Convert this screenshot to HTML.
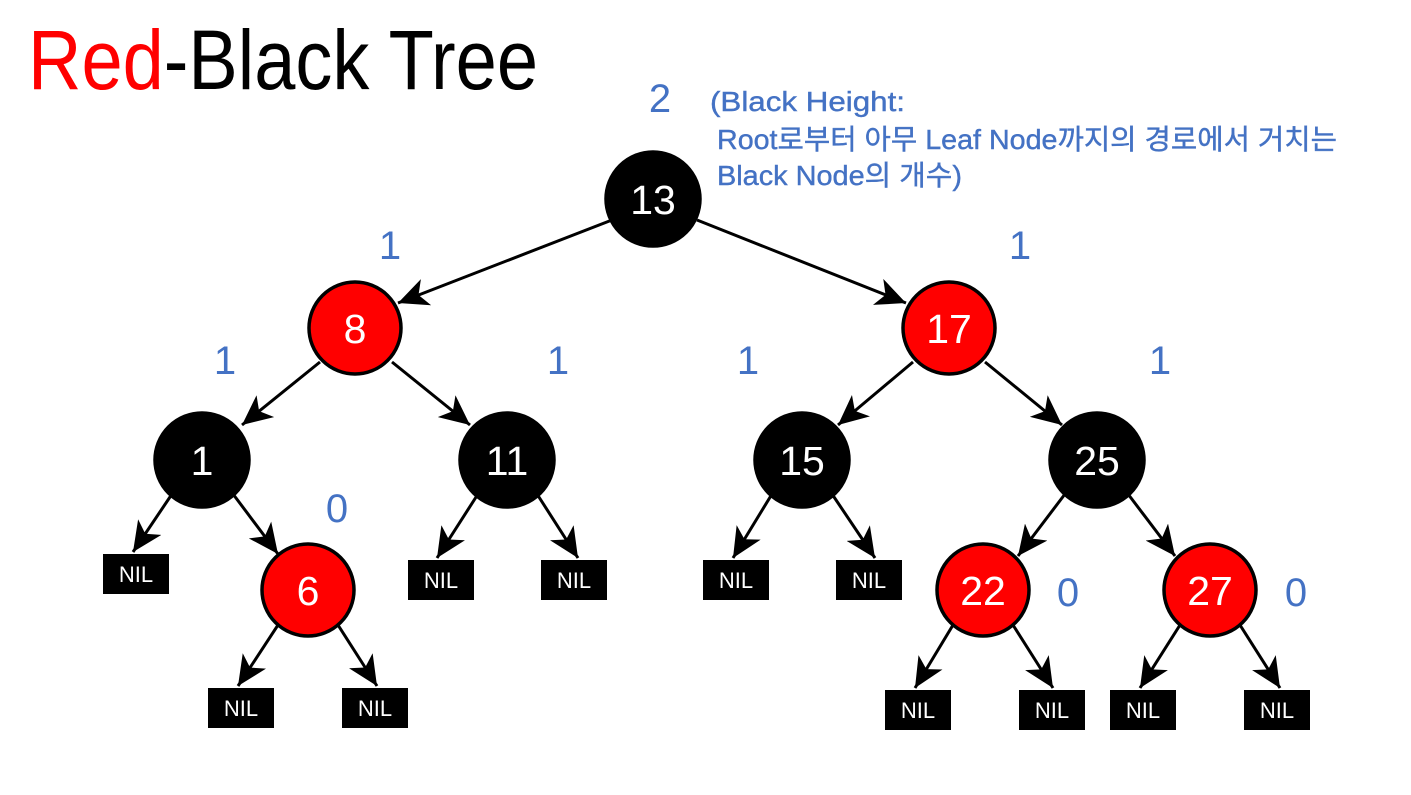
<!DOCTYPE html>
<html><head><meta charset="utf-8"><style>
html,body{margin:0;padding:0;background:#fff;}
svg{display:block;}
.n{font-family:"Liberation Sans",sans-serif;font-size:41px;fill:#fff;text-anchor:middle;}
.nil{font-family:"Liberation Sans",sans-serif;font-size:22px;fill:#fff;text-anchor:middle;}
.b{font-family:"Liberation Sans","Noto Sans CJK KR",sans-serif;fill:#4472C4;}
</style></head><body>
<svg width="1411" height="795" viewBox="0 0 1411 795" xmlns="http://www.w3.org/2000/svg">
<defs>
<marker id="h" markerWidth="32" markerHeight="28" refX="30" refY="14" orient="auto" markerUnits="userSpaceOnUse"><path d="M0,0 L30,14 L0,28 L8,14 z" fill="#000"/></marker></defs>
<text x="28" y="89" font-family="Liberation Sans,sans-serif" font-size="84" textLength="510" lengthAdjust="spacingAndGlyphs"><tspan fill="#f00">Red</tspan><tspan fill="#000">-Black Tree</tspan></text>
<g stroke="#000" stroke-width="3" fill="none" marker-end="url(#h)">
<line x1="612" y1="220" x2="398" y2="303"/>
<line x1="697" y1="220" x2="906" y2="303"/>
<line x1="320" y1="362" x2="242" y2="425"/>
<line x1="392" y1="362" x2="470" y2="425"/>
<line x1="913" y1="362" x2="838" y2="425"/>
<line x1="985" y1="362" x2="1062" y2="425"/>
<line x1="172" y1="494" x2="133" y2="552"/>
<line x1="233" y1="494" x2="278" y2="554"/>
<line x1="478" y1="494" x2="437" y2="558"/>
<line x1="537" y1="494" x2="578" y2="558"/>
<line x1="772" y1="494" x2="733" y2="558"/>
<line x1="832" y1="494" x2="875" y2="558"/>
<line x1="1065" y1="494" x2="1018" y2="556"/>
<line x1="1128" y1="494" x2="1175" y2="556"/>
<line x1="278" y1="625" x2="238" y2="686"/>
<line x1="338" y1="625" x2="377" y2="686"/>
<line x1="953" y1="625" x2="915" y2="688"/>
<line x1="1013" y1="625" x2="1053" y2="688"/>
<line x1="1180" y1="625" x2="1140" y2="688"/>
<line x1="1240" y1="625" x2="1280" y2="688"/>
</g>
<g stroke="#000" stroke-width="3.5">
<circle cx="653" cy="199" r="47" fill="#000"/>
<circle cx="355" cy="328" r="46" fill="#f00"/>
<circle cx="949" cy="328" r="46" fill="#f00"/>
<circle cx="202" cy="460" r="47" fill="#000"/>
<circle cx="507" cy="460" r="47" fill="#000"/>
<circle cx="802" cy="460" r="47" fill="#000"/>
<circle cx="1097" cy="460" r="47" fill="#000"/>
<circle cx="308" cy="590" r="46" fill="#f00"/>
<circle cx="983" cy="590" r="46" fill="#f00"/>
<circle cx="1210" cy="590" r="46" fill="#f00"/>
</g>
<g>
<text class="n" x="653" y="214">13</text>
<text class="n" x="355" y="343">8</text>
<text class="n" x="949" y="343">17</text>
<text class="n" x="202" y="475">1</text>
<text class="n" x="507" y="475">11</text>
<text class="n" x="802" y="475">15</text>
<text class="n" x="1097" y="475">25</text>
<text class="n" x="308" y="605">6</text>
<text class="n" x="983" y="605">22</text>
<text class="n" x="1210" y="605">27</text>
</g>
<g fill="#000">
<rect x="103" y="554" width="66" height="40"/>
<rect x="208" y="688" width="66" height="40"/>
<rect x="342" y="688" width="66" height="40"/>
<rect x="408" y="560" width="66" height="40"/>
<rect x="541" y="560" width="66" height="40"/>
<rect x="703" y="560" width="66" height="40"/>
<rect x="836" y="560" width="66" height="40"/>
<rect x="885" y="690" width="66" height="40"/>
<rect x="1019" y="690" width="66" height="40"/>
<rect x="1110" y="690" width="66" height="40"/>
<rect x="1244" y="690" width="66" height="40"/>
</g>
<g>
<text class="nil" x="136" y="582">NIL</text>
<text class="nil" x="241" y="716">NIL</text>
<text class="nil" x="375" y="716">NIL</text>
<text class="nil" x="441" y="588">NIL</text>
<text class="nil" x="574" y="588">NIL</text>
<text class="nil" x="736" y="588">NIL</text>
<text class="nil" x="869" y="588">NIL</text>
<text class="nil" x="918" y="718">NIL</text>
<text class="nil" x="1052" y="718">NIL</text>
<text class="nil" x="1143" y="718">NIL</text>
<text class="nil" x="1277" y="718">NIL</text>
</g>
<g class="b" font-size="40" text-anchor="middle">
<text x="660" y="112">2</text>
<text x="390" y="259">1</text>
<text x="1020" y="259">1</text>
<text x="225" y="374">1</text>
<text x="558" y="374">1</text>
<text x="748" y="374">1</text>
<text x="1160" y="374">1</text>
<text x="337" y="522">0</text>
<text x="1068" y="606">0</text>
<text x="1296" y="606">0</text>
</g>
<g class="b" font-size="28" stroke="#4472C4" stroke-width="0.4">
<text x="710" y="111" textLength="195" lengthAdjust="spacingAndGlyphs">(Black Height:</text>
<text x="717" y="149" textLength="620" lengthAdjust="spacingAndGlyphs">Root로부터 아무 Leaf Node까지의 경로에서 거치는</text>
<text x="717" y="185" textLength="245" lengthAdjust="spacingAndGlyphs">Black Node의 개수)</text>
</g>
</svg>
</body></html>
